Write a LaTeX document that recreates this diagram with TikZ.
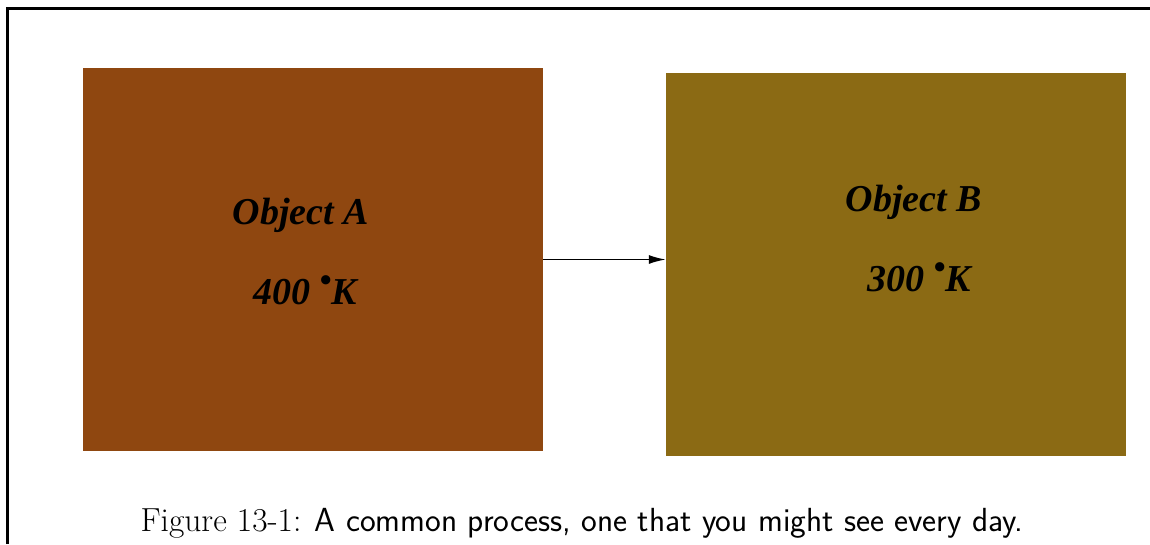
\documentclass[tikz,border=0pt]{standalone}
\usepackage{fontspec}
\newfontfamily\objfont{Liberation Serif}
\usetikzlibrary{arrows.meta}
\definecolor{objbrown}{RGB}{143,71,16}
\definecolor{objgold}{RGB}{139,106,20}
\tikzset{
  object/.style={rectangle, minimum width=460pt, minimum height=383pt, inner sep=0pt},
  objlabel/.style={font=\objfont\bfseries\itshape\fontsize{38}{40}\selectfont, inner sep=0pt}
}
\newcommand{\degdot}{\raisebox{0.33em}{\fontsize{34}{34}\selectfont•}}
\begin{document}
\begin{tikzpicture}[x=1pt,y=-1pt]
      \useasboundingbox (0,0) rectangle (1150,544);
      \draw[line width=3.2pt] (7.5,544) -- (7.5,8.5) -- (1150,8.5);
      \node[object, fill=objbrown] (A) at (313,259.5) {};
      \node[object, fill=objgold] (B) at (896,264.5) {};
      \node[objlabel] (nameA) at (301,215) {Object A};
      \node[objlabel] (tempA) at (305,290) {400 \degdot K};
      \node[objlabel] (nameB) at (914,202) {Object B};
      \node[objlabel] (tempB) at (919,277) {300 \degdot K};
      \draw[line width=1.6pt, -{Latex[length=17pt,width=9pt]}] (A.east) -- (A.east -| B.west);
      \node[font=\fontsize{33.4}{36}\selectfont, inner sep=0pt] (caption) at (582,523)
        {Figure 13-1: \sffamily A common process, one that you might see every day.};
    \end{tikzpicture}
\end{document}
